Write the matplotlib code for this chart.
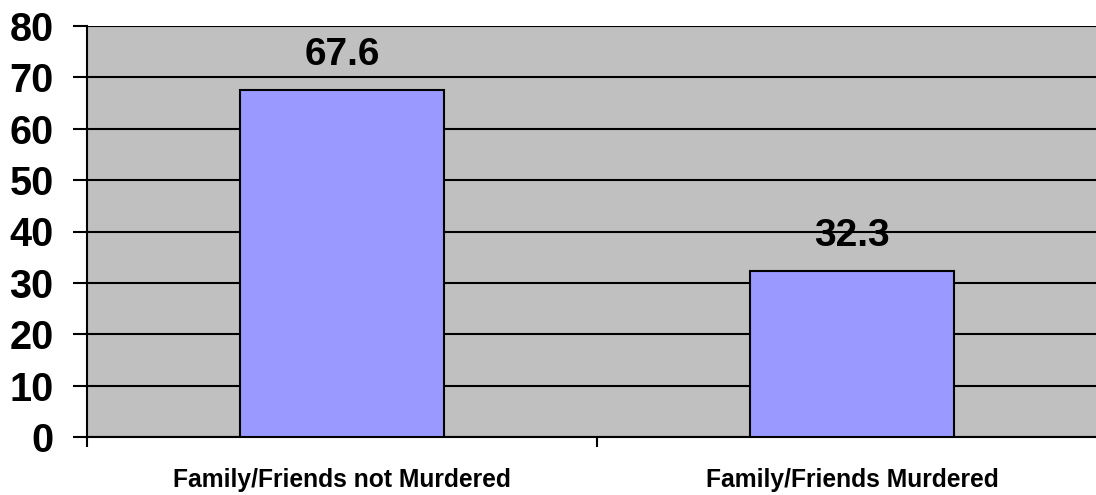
import matplotlib
matplotlib.use("Agg")
import matplotlib.pyplot as plt

categories = ["Family/Friends not Murdered", "Family/Friends Murdered"]
values = [67.6, 32.3]
value_labels = ["67.6", "32.3"]
y_ticks = [0, 10, 20, 30, 40, 50, 60, 70, 80]

plt.rcParams["font.family"] = ["Liberation Sans", "DejaVu Sans"]
plt.rcParams["font.weight"] = "bold"

fig = plt.figure(figsize=(10.96, 4.95), dpi=100)
ax = fig.add_axes([87 / 1096, 58 / 495, 1020 / 1096, 411 / 495])
ax.set_facecolor("#C0C0C0")

x = list(range(len(categories)))
bars = ax.bar(x, values, width=0.4, color="#9999FF", edgecolor="black",
              linewidth=1.5, zorder=3)

for xi, v, lab in zip(x, values, value_labels):
    ax.annotate(lab, (xi, v), xytext=(0, 18), textcoords="offset points",
                ha="center", va="baseline", fontsize=28, fontweight="bold",
                zorder=4)

ax.set_ylim(0, 80)
ax.set_xlim(-0.5, len(categories) - 0.5)
ax.set_yticks(y_ticks)
ax.set_yticklabels([str(t) for t in y_ticks], fontsize=28.5, fontweight="bold")
ax.yaxis.grid(True, color="black", linewidth=1.5, zorder=1)
ax.set_axisbelow(True)

# category boundaries carry the tick marks, centres carry the labels
ax.set_xticks([i - 0.5 for i in range(len(categories) + 1)])
ax.set_xticklabels([])
ax.set_xticks(x, minor=True)
ax.set_xticklabels(categories, minor=True, fontsize=17.7, fontweight="bold")
ax.tick_params(axis="x", which="major", direction="out", length=7, width=1.5)
ax.tick_params(axis="x", which="minor", length=0, pad=22)
ax.tick_params(axis="y", direction="out", length=10, width=1.5, pad=14)

for side in ("top", "right"):
    ax.spines[side].set_visible(False)
for side in ("left", "bottom"):
    ax.spines[side].set_linewidth(1.5)

fig.savefig("out.png", dpi=100)
